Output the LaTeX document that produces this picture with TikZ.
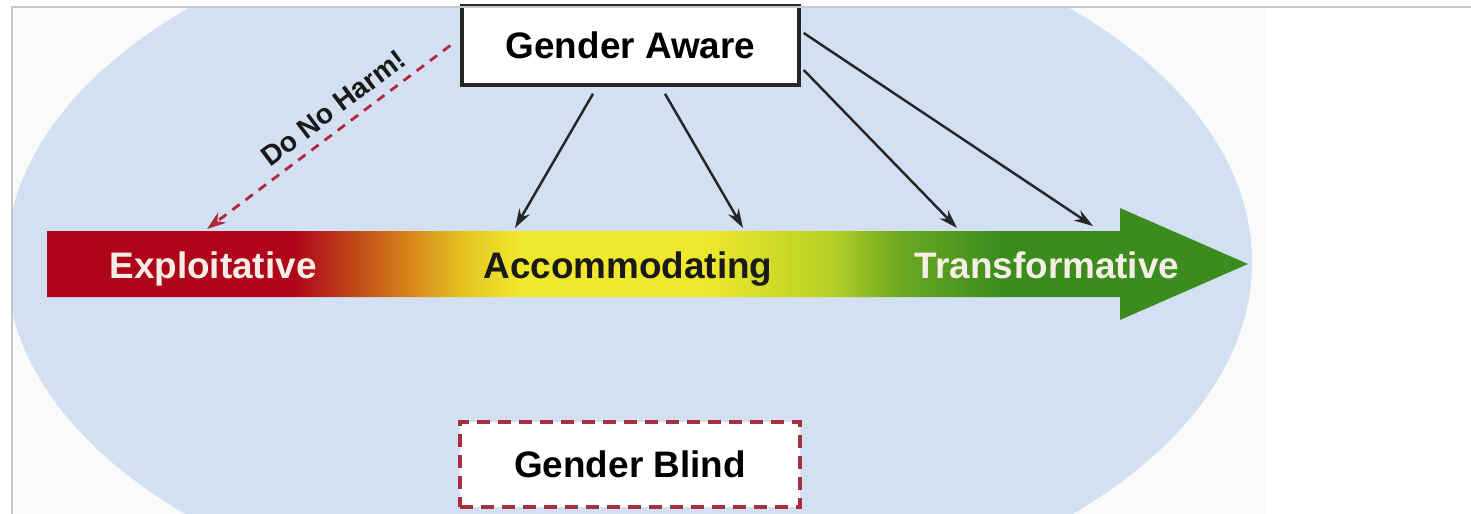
\documentclass[tikz,border=0pt]{standalone}
\usepackage{fontspec}
\setmainfont{Liberation Sans}
\usetikzlibrary{arrows.meta, positioning, calc}
\definecolor{ovalblue}{HTML}{D3E0F1}
\definecolor{pagegray}{HTML}{FAFAFA}
\definecolor{framegray}{HTML}{C8C8C8}
\definecolor{harmred}{HTML}{B0283A}
\definecolor{blindred}{HTML}{A63040}
\definecolor{labelwhite}{HTML}{F6EEE6}
\definecolor{exred}{HTML}{B0061C}
\definecolor{exbrown}{HTML}{BE4418}
\definecolor{exorange}{HTML}{D8861C}
\definecolor{exgold}{HTML}{E4C420}
\definecolor{exyellow}{HTML}{F0E82C}
\definecolor{exlime}{HTML}{B6D024}
\definecolor{exleaf}{HTML}{6CA822}
\definecolor{exgreen}{HTML}{3A8C1E}
\pgfdeclarehorizontalshading{scalebar}{100bp}{color(0bp)=(exred); color(35.3bp)=(exred);
  color(37.6bp)=(exbrown); color(40.1bp)=(exorange); color(42.4bp)=(exgold);
  color(44.6bp)=(exyellow); color(52.2bp)=(exyellow); color(57.6bp)=(exlime);
  color(60.5bp)=(exleaf); color(64.7bp)=(exgreen); color(100bp)=(exgreen)}

\begin{document}
\begin{tikzpicture}[
    x=0.02cm, y=-0.02cm,
    font=\fontsize{21}{24}\selectfont\bfseries,
    genderbox/.style={line width=2pt, fill=white, minimum width=#1, inner sep=0pt},
    barlabel/.style={anchor=base, inner sep=0pt},
    pointer/.style={-{Stealth[length=0.38cm, width=0.24cm]}, line width=1.4pt, black!85},
  ]
    \useasboundingbox (0,0) rectangle (1471,514);
    \fill[white] (0,0) rectangle (1471,514);
    \fill[pagegray] (12,7) rectangle (1265,514);
    \begin{scope}
      \clip (12,7) rectangle (1265,514);
      \fill[ovalblue] (629,262) ellipse [x radius=623, y radius=359];
    \end{scope}

    % the scale bar
    \shade[shading=scalebar] (47,231) -- (1120,231) -- (1120,208) -- (1248,264)
      -- (1120,320) -- (1120,297) -- (47,297) -- cycle;
    \node[barlabel, text=labelwhite] (exploit) at (213,278) {Exploitative};
    \node[barlabel, text=black!90]   (accom)   at (628,278) {Accommodating};
    \node[barlabel, text=labelwhite] (transf)  at (1047,278) {Transformative};

    \node[genderbox=6.74cm, draw=black!85, minimum height=1.58cm] (aware) at (630.5,45.5) {Gender Aware};
    \node[genderbox=6.8cm, draw=blindred, dash pattern=on 0.26cm off 0.16cm,
          minimum height=1.7cm] (blind) at (630,464.5) {Gender Blind};

    \coordinate (harm) at (207,229);
    \coordinate (acc1) at (515,228);
    \coordinate (acc2) at (743,228);
    \coordinate (tra1) at (957,228);
    \coordinate (tra2) at (1093,226);

    \draw[-{Stealth[length=0.38cm, width=0.26cm]}, line width=1.6pt, harmred,
          dash pattern=on 0.18cm off 0.15cm] ([xshift=-0.2cm]aware.west) -- (harm)
      node[pos=0.43, sloped, above=0.07cm, text=black!90, font=\fontsize{16}{18}\selectfont\bfseries] {Do No Harm!};
    \draw[pointer] ([xshift=-0.75cm, yshift=-0.14cm]aware.south) -- (acc1);
    \draw[pointer] ([xshift=0.69cm, yshift=-0.14cm]aware.south) -- (acc2);
    \draw[pointer] ([xshift=0.06cm, yshift=-0.49cm]aware.east) -- (tra1);
    \draw[pointer] ([xshift=0.06cm, yshift=0.25cm]aware.east) -- (tra2);

    \draw[framegray, line width=0.6pt] (12,514) -- (12,7) -- (1471,7);
  \end{tikzpicture}
\end{document}
